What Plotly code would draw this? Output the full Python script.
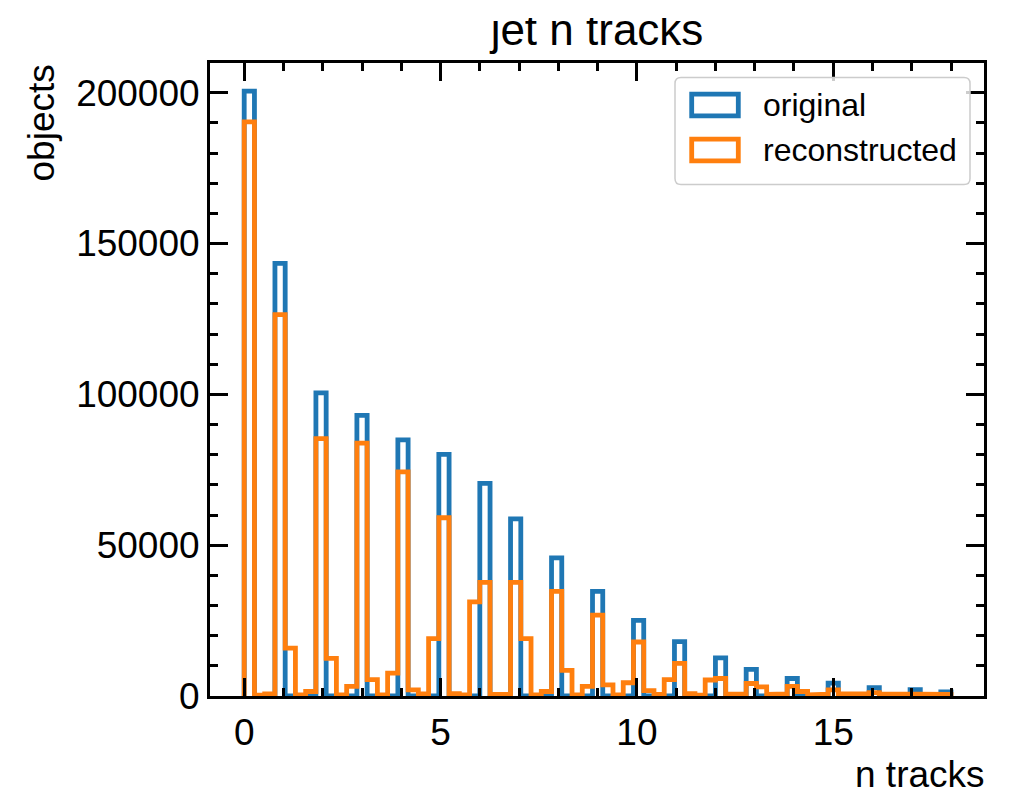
import numpy as np
import plotly.graph_objects as go

# ---- histogram binning: 69 equal-width bins on [0, 18] ----
BIN_LO, BIN_HI, N_BINS = 0.0, 18.0, 69

# ---- original sample: jets per integer track multiplicity ----
n_tracks = list(range(19))
original_counts = [200500, 143400, 100500, 93000, 84900, 80100, 70500, 58700, 45800,
                   34700, 25100, 18000, 12650, 8800, 5800, 4300, 2800, 2100, 1400]

# ---- reconstructed sample: counts per bin (continuous values) ----
reconstructed_counts = [
    190300, 300, 700, 126400, 15900, 400, 1500, 85300, 12500, 400,
    3200, 83800, 5400, 400, 7600, 74300, 2000, 700, 19000, 59100,
    800, 400, 31200, 37700, 500, 500, 37700, 19000, 400, 1500,
    34700, 8500, 400, 3200, 26800, 3700, 400, 4400, 17900, 1800,
    500, 5400, 10800, 800, 300, 5300, 5800, 600, 700, 4150,
    3000, 500, 700, 3200, 1500, 400, 600, 2050, 750, 400,
    700, 1150, 700, 400, 500, 750, 400, 400, 500,
]

series_names = ["original", "reconstructed"]
series_colors = ["#1f77b4", "#ff7f0e"]

TITLE = "jet n tracks"
X_LABEL = "n tracks"
Y_LABEL = "objects"

edges = np.linspace(BIN_LO, BIN_HI, N_BINS + 1)

# fill the integer multiplicities into the common binning
idx = np.minimum((np.array(n_tracks) * N_BINS / (BIN_HI - BIN_LO)).astype(int), N_BINS - 1)
original_binned = np.zeros(N_BINS)
np.add.at(original_binned, idx, original_counts)
reconstructed_binned = np.array(reconstructed_counts, dtype=float)


def step_outline(bin_edges, counts):
    """Outline of a step histogram, starting and ending on the baseline."""
    xs = np.repeat(bin_edges, 2)
    ys = np.concatenate([[0.0], np.repeat(counts, 2), [0.0]])
    return xs, ys


# ---- page geometry (pixels) ----
W, H = 1009, 798
M_L, M_R, M_T, M_B = 210, 25, 0, 102
REGION_W = W - M_L - M_R
REGION_H = H - M_T - M_B
PLOT_TOP = 63          # top edge of the histogram frame
TITLE_CLIP = 18        # upper edge of the title strip
TITLE_BASE = 45        # title baseline
FONT = "Liberation Sans"
FS = 37
TITLE_FS = 44
LEG_FS = 32


def fx(px):
    return (px - M_L) / REGION_W


def fy(py):
    return (M_T + REGION_H - py) / REGION_H


fig = go.Figure()

for counts, name, color in zip([original_binned, reconstructed_binned], series_names, series_colors):
    xs, ys = step_outline(edges, counts)
    fig.add_trace(go.Scatter(
        x=xs, y=ys, mode="lines", name=name,
        line=dict(color=color, width=4.8),
        showlegend=False, hoverinfo="skip",
        xaxis="x", yaxis="y",
    ))

# title in its own strip so the top of the lettering is cut by the strip edge
t_lo, t_hi = fy(60), fy(TITLE_CLIP)
title_pt = TITLE_BASE - 0.25 * TITLE_FS
fig.add_trace(go.Scatter(
    x=[0.5], y=[(60 - title_pt) / (60 - TITLE_CLIP)],
    mode="text", text=[TITLE], textposition="middle center",
    textfont=dict(family=FONT, size=TITLE_FS, color="black"),
    cliponaxis=True, showlegend=False, hoverinfo="skip",
    xaxis="x2", yaxis="y2",
))

axis_common = dict(
    showline=True, linecolor="black", linewidth=3, mirror="allticks",
    ticks="inside", ticklen=18, tickwidth=2.5, tickcolor="black",
    showgrid=False, zeroline=False,
    tickfont=dict(family=FONT, size=FS, color="black"),
)

fig.update_layout(
    width=W, height=H,
    margin=dict(l=M_L, r=M_R, t=M_T, b=M_B),
    paper_bgcolor="white", plot_bgcolor="white",
    showlegend=False,
    xaxis=dict(
        range=[-0.871, 18.839], tickmode="linear", tick0=0, dtick=5,
        minor=dict(ticks="inside", dtick=1, ticklen=8, tickwidth=2.5, tickcolor="black"),
        ticklabelstandoff=2,
        **axis_common,
    ),
    yaxis=dict(
        range=[0, 209850], domain=[0, fy(PLOT_TOP)],
        tickmode="linear", tick0=0, dtick=50000, tickformat="d",
        minor=dict(ticks="inside", dtick=10000, ticklen=8, tickwidth=2.5, tickcolor="black"),
        ticklabelstandoff=0,
        **axis_common,
    ),
    xaxis2=dict(range=[0, 1], domain=[0, 1], visible=False, anchor="y2", fixedrange=True),
    yaxis2=dict(range=[0, 1], domain=[t_lo, t_hi], visible=False, anchor="x2", fixedrange=True),
)

# axis titles, placed at the ends of the axes
fig.add_annotation(
    text=Y_LABEL, textangle=-90, xref="paper", yref="paper",
    x=fx(41), y=fy(PLOT_TOP), xanchor="center", yanchor="top",
    showarrow=False, font=dict(family=FONT, size=FS, color="black"),
)
fig.add_annotation(
    text=X_LABEL, xref="paper", yref="paper",
    x=fx(987), y=fy(775), xanchor="right", yanchor="middle",
    showarrow=False, font=dict(family=FONT, size=FS, color="black"),
)

# legend frame with rounded corners
bx0, bx1, by0, by1, r = 675, 970, 77.5, 184.5, 6
path = (
    f"M {fx(bx0 + r)},{fy(by0)} L {fx(bx1 - r)},{fy(by0)} "
    f"Q {fx(bx1)},{fy(by0)} {fx(bx1)},{fy(by0 + r)} "
    f"L {fx(bx1)},{fy(by1 - r)} Q {fx(bx1)},{fy(by1)} {fx(bx1 - r)},{fy(by1)} "
    f"L {fx(bx0 + r)},{fy(by1)} Q {fx(bx0)},{fy(by1)} {fx(bx0)},{fy(by1 - r)} "
    f"L {fx(bx0)},{fy(by0 + r)} Q {fx(bx0)},{fy(by0)} {fx(bx0 + r)},{fy(by0)} Z"
)
fig.add_shape(type="path", path=path, xref="paper", yref="paper",
              line=dict(color="#cccccc", width=1.5), fillcolor="rgba(255,255,255,0.8)",
              layer="above")

entry_rows = [105, 150]
for name, color, cy in zip(series_names, series_colors, entry_rows):
    fig.add_shape(type="rect", xref="paper", yref="paper",
                  x0=fx(691.7), x1=fx(738.3), y0=fy(cy - 10.8), y1=fy(cy + 10.8),
                  line=dict(color=color, width=4.8), fillcolor="rgba(0,0,0,0)",
                  layer="above")
    fig.add_annotation(
        text=name, xref="paper", yref="paper", x=fx(761), y=fy(cy),
        xanchor="left", yanchor="middle", showarrow=False,
        font=dict(family=FONT, size=LEG_FS, color="black"),
    )

fig.write_html("out.html")
